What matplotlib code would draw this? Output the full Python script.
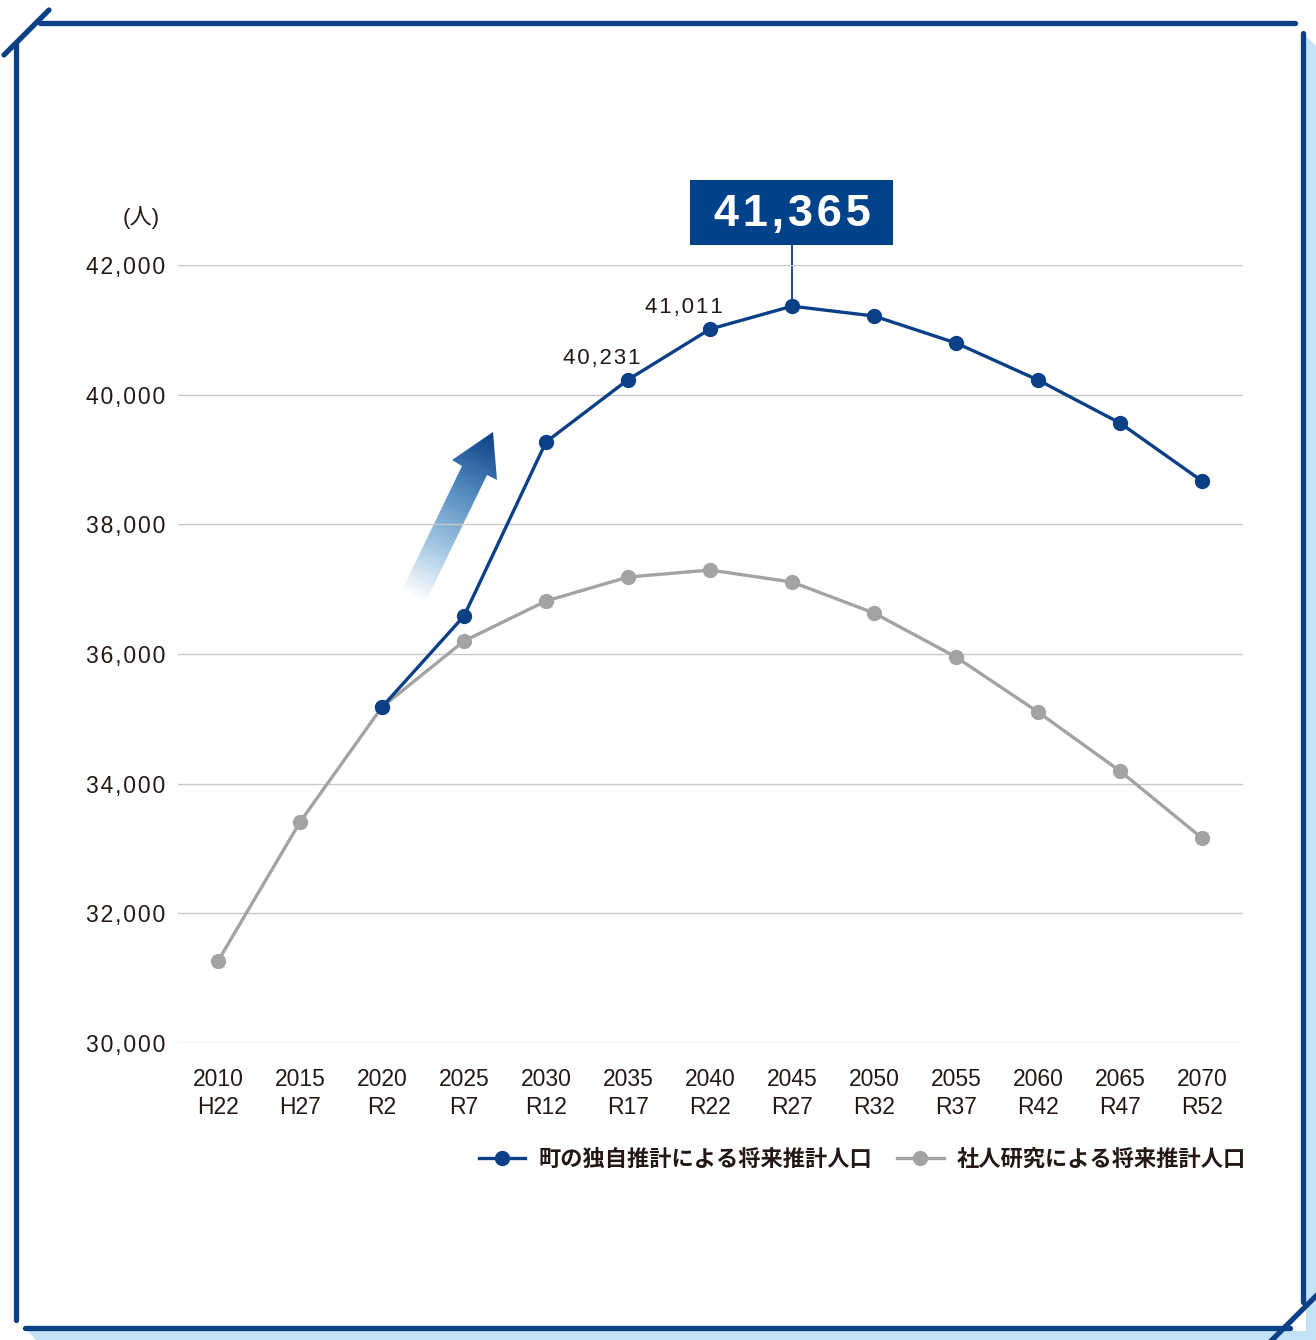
# 将来推計人口の比較グラフ
import numpy as np
import matplotlib.pyplot as plt
from matplotlib.patches import Polygon, Rectangle
from matplotlib.colors import LinearSegmentedColormap

plt.rcParams['font.family'] = ['Liberation Sans', 'Noto Sans CJK JP', 'DejaVu Sans']

years = [2010, 2015, 2020, 2025, 2030, 2035, 2040, 2045, 2050, 2055, 2060, 2065, 2070]
wareki = ['H22', 'H27', 'R2', 'R7', 'R12', 'R17', 'R22', 'R27', 'R32', 'R37', 'R42', 'R47', 'R52']
town = [np.nan, np.nan, 35182, 36586, 39270, 40231, 41011, 41365, 41213, 40797, 40226, 39563, 38668]
ipss = [31264, 33408, 35182, 36200, 36817, 37187, 37295, 37110, 36632, 35953, 35105, 34195, 33161]
yticks = [30000, 32000, 34000, 36000, 38000, 40000, 42000]
series_names = ['町の独自推計による将来推計人口', '社人研究による将来推計人口']

blue = '#0b3f86'
gray = '#a3a3a3'
txt = '#231815'


def spaced(s):
    # 字間を少し広げる(ヘアスペース)
    return '\u200a'.join(s)


W, H = 1316, 1340
fig = plt.figure(figsize=(W / 100, H / 100), dpi=100)

# 背景(枠と矢印)をピクセル座標で描く
bg = fig.add_axes([0, 0, 1, 1], zorder=0)
bg.set_xlim(0, W)
bg.set_ylim(H, 0)
bg.axis('off')

light = '#c4e2f5'
bg.add_patch(Polygon([[1306, 36], [1316, 46], [1316, 1340], [1306, 1340]], closed=True, color=light, lw=0))
bg.add_patch(Polygon([[28, 1331], [1316, 1331], [1316, 1340], [36, 1340]], closed=True, color=light, lw=0))
frame_kw = dict(color=blue, lw=3.8, solid_capstyle='round')
bg.plot([40, 1295], [23, 23], **frame_kw)
bg.plot([4, 49], [55, 10], **frame_kw)
bg.plot([16, 16], [43, 1320], **frame_kw)
bg.plot([1303, 1303], [33, 1302], **frame_kw)
bg.plot([25, 1290], [1328, 1328], **frame_kw)
bg.plot([1270, 1316], [1342, 1296], color=blue, lw=3.8)

# グラデーション矢印
arrow = Polygon([[401, 592], [462, 466], [452, 460], [493, 432], [497, 480], [487, 475], [425, 603]],
                closed=True, facecolor='none', edgecolor='none')
bg.add_patch(arrow)
gx, gy = np.meshgrid(np.linspace(395, 500, 200), np.linspace(428, 610, 300))
tail = np.array([413, 598])
tip = np.array([493, 432])
d = tip - tail
t = ((gx - tail[0]) * d[0] + (gy - tail[1]) * d[1]) / (d @ d)
t = np.clip(t, 0, 1)
cmap = LinearSegmentedColormap.from_list('arw', ['#ffffff', '#9cc2e0', '#4f86bb', '#0b3f86'])
im = bg.imshow(t, cmap=cmap, extent=[395, 500, 610, 428], vmin=0, vmax=1, aspect='auto')
im.set_clip_path(arrow)
bg.set_xlim(0, W)
bg.set_ylim(H, 0)

# メイン
ax = fig.add_axes([178 / W, 1 - 1043 / H, (1243 - 178) / W, (1043 - 265) / H], zorder=1)
ax.patch.set_visible(False)

ax.plot(years, ipss, color=gray, lw=2.4, marker='o', ms=10, mfc=gray, mec=gray,
        label=series_names[1], clip_on=False, zorder=3)
ax.plot(years, town, color=blue, lw=2.4, marker='o', ms=10, mfc=blue, mec=blue,
        label=series_names[0], clip_on=False, zorder=4)

ax.set_xlim(2007.56, 2072.5)
ax.set_ylim(30000, 42000)
ax.set_yticks(yticks)
ax.set_yticklabels([spaced(f'{v:,}') for v in yticks])
ax.set_xticks(years)
ax.set_xticklabels([f'{y}\n{w}' for y, w in zip(years, wareki)], linespacing=1.25)
ax.tick_params(axis='y', length=0, pad=9, labelsize=16.5, labelcolor=txt)
ax.tick_params(axis='x', length=0, pad=18, labelsize=16.5, labelcolor=txt)
ax.grid(axis='y', color='#c8c8c8', lw=1)
ax.set_axisbelow(True)
for s in ax.spines.values():
    s.set_visible(False)

ax.text(-0.017, 1.0 + 47 / 778, '(人)', transform=ax.transAxes, ha='right', va='center',
        fontsize=16, color=txt)

# 値ラベル
for i in [5, 6]:
    ax.annotate(spaced(f'{town[i]:,}'), (years[i], town[i]), xytext=(-19, 15.5), textcoords='offset points',
                ha='center', va='center', fontsize=16, color=txt)

# ピーク値のボックス(データ点の位置から配置)
peak = 7
px, py = ax.transData.transform((years[peak], town[peak]))
bx, by = px, H - py
bg.add_patch(Rectangle((bx - 102, by - 126), 203, 65, facecolor='#00428a', edgecolor='none', zorder=5))
bg.plot([bx, bx], [by, by - 61], color=blue, lw=1.3, zorder=4)
bg.text(bx, by - 92, spaced(f'{town[peak]:,}'), ha='center', va='center', fontsize=32.5,
        fontweight='bold', color='white', zorder=6)

handles, labels = ax.get_legend_handles_labels()
leg = fig.legend(handles[::-1], labels[::-1], loc='center right', bbox_to_anchor=(1255 / W, 1 - 1160 / H),
                 ncol=2, frameon=False, fontsize=16, handlelength=2.1, handletextpad=0.6,
                 columnspacing=1.1, borderaxespad=0)
for t_ in leg.get_texts():
    t_.set_color(txt)
    t_.set_fontweight('bold')

fig.savefig('out.png', dpi=100)
